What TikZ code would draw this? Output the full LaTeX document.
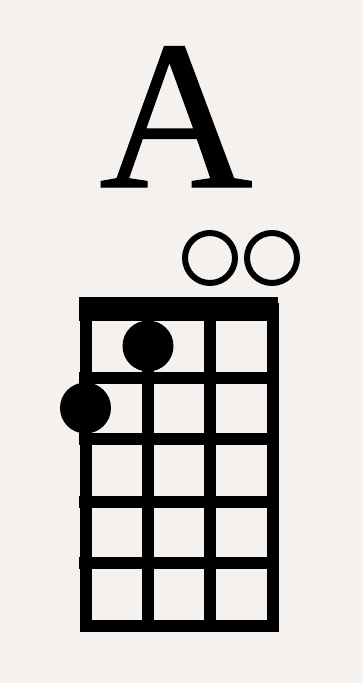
\documentclass[tikz,border=0pt]{standalone}
\usepackage{fontspec}
\setmainfont{Liberation Serif}
\newfontfamily\chordfont[AutoFakeBold=0.6]{Liberation Serif}
\usetikzlibrary{shapes.geometric, positioning}
\definecolor{paper}{RGB}{244,241,239}

\begin{document}
\begin{tikzpicture}[
    x=1pt, y=-1pt,
    grid/.style={line width=12pt, black},
    fingerdot/.style={circle, fill=black, minimum size=51pt, inner sep=0pt},
    opendot/.style={circle, draw=black, line width=6pt, minimum size=50pt, inner sep=0pt},
    chordname/.style={font=\chordfont\bfseries\fontsize{213}{213}\selectfont, inner sep=0pt, anchor=base}
]

% Background
\fill [paper] (0,0) rectangle (363,683);
\useasboundingbox (0,0) rectangle (363,683);

% Chord name
\node (name) [chordname] at (176,187) {A};

% Fretboard
\draw [grid] (85.5,309) rectangle (272.5,625.5);
\foreach \x in {148,210}
    \draw [grid] (\x,309) -- (\x,625.5);
\foreach \y in {377.5,439,501.5,563}
    \draw [grid] (79,\y) -- (278,\y);
\fill [black] (79,297) rectangle (278,321);

% Open strings
\node (open3) [opendot] at (210,258) {};
\node (open4) [opendot] at (272,258) {};

% Fingers
\node (finger2) [fingerdot] at (148,346) {};
\node (finger1) [fingerdot] at (85.5,408) {};

\end{tikzpicture}
\end{document}
